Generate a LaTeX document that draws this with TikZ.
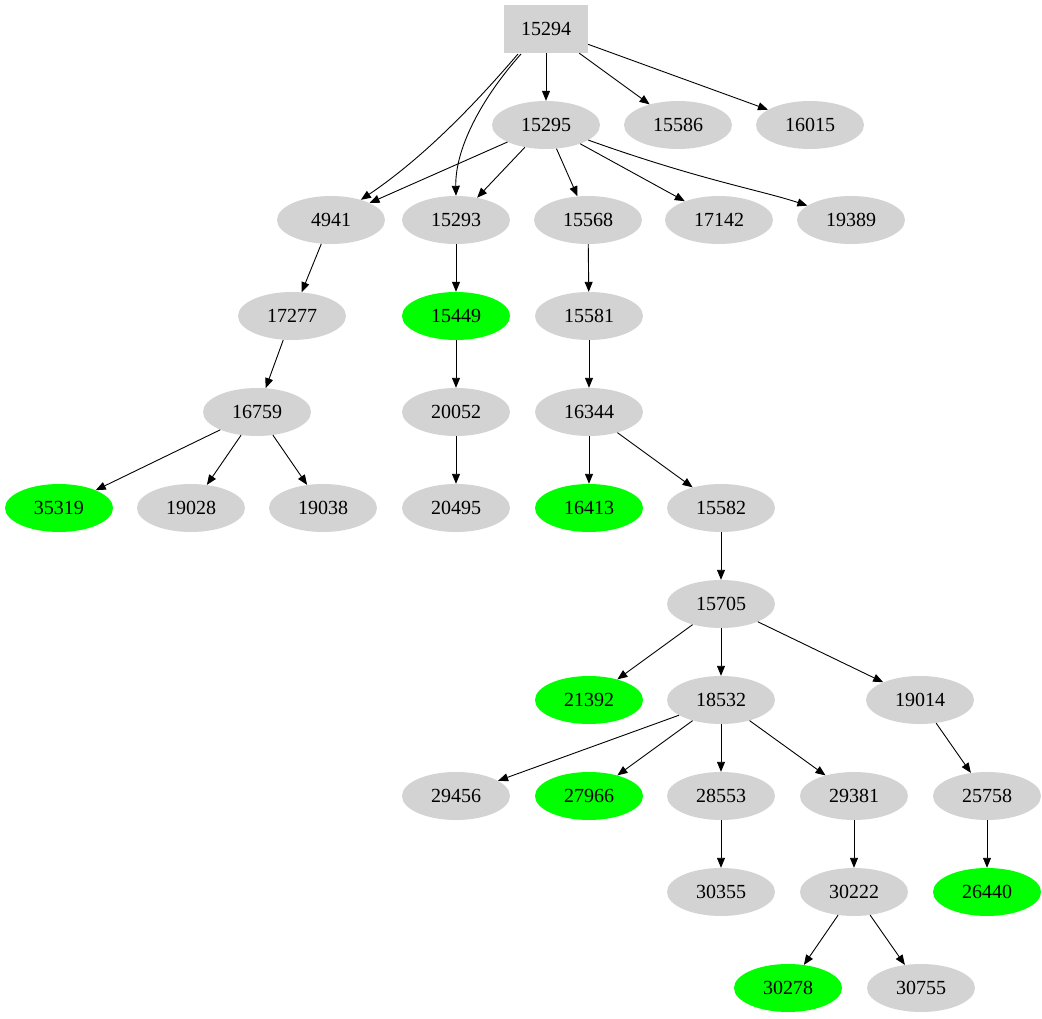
\documentclass[tikz,border=0pt]{standalone}
\usepackage{fontspec}
\setmainfont{Liberation Serif}
\usetikzlibrary{shapes.geometric,arrows.meta}
\definecolor{lg}{HTML}{D3D3D3}
\definecolor{gv}{HTML}{00FF00}
\begin{document}
\begin{tikzpicture}[x=1pt,y=-1pt,
  el/.style={ellipse,fill=lg,minimum width=108pt,minimum height=48pt,inner sep=0pt,font=\fontsize{20}{22}\selectfont},
  gr/.style={el,fill=gv},
  bx/.style={rectangle,fill=lg,minimum width=84pt,minimum height=48pt,font=\fontsize{20}{22}\selectfont},
  e/.style={-{Triangle[length=10pt,width=8pt]},line width=0.9pt}]
\useasboundingbox (0,0) rectangle (1042,1019);
\node[bx] (a) at (546,29) {15294};
\node[el] (b) at (546,125) {15295};
\node[el] (c) at (678,125) {15586};
\node[el] (d) at (810,125) {16015};
\node[el] (n4941) at (331,220) {4941};
\node[el] (n15293) at (456,220) {15293};
\node[el] (n15568) at (588,220) {15568};
\node[el] (n17142) at (719,220) {17142};
\node[el] (n19389) at (851,220) {19389};
\node[el] (n17277) at (292,316) {17277};
\node[gr] (n15449) at (456,316) {15449};
\node[el] (n15581) at (589,316) {15581};
\node[el] (n16759) at (257,412) {16759};
\node[el] (n20052) at (456,412) {20052};
\node[el] (n16344) at (589,412) {16344};
\node[gr] (n35319) at (59,508) {35319};
\node[el] (n19028) at (191,508) {19028};
\node[el] (n19038) at (323,508) {19038};
\node[el] (n20495) at (456,508) {20495};
\node[gr] (n16413) at (589,508) {16413};
\node[el] (n15582) at (721,508) {15582};
\node[el] (n15705) at (721,604) {15705};
\node[gr] (n21392) at (589,700) {21392};
\node[el] (n18532) at (721,700) {18532};
\node[el] (n19014) at (920,700) {19014};
\node[el] (n29456) at (456,796) {29456};
\node[gr] (n27966) at (589,796) {27966};
\node[el] (n28553) at (721,796) {28553};
\node[el] (n29381) at (854,796) {29381};
\node[el] (n25758) at (987,796) {25758};
\node[el] (n30355) at (721,892) {30355};
\node[el] (n30222) at (854,892) {30222};
\node[gr] (n26440) at (987,892) {26440};
\node[gr] (n30278) at (788,988) {30278};
\node[el] (n30755) at (921,988) {30755};
\draw[e] (a) -- (b); \draw[e] (a) -- (c); \draw[e] (a) -- (d);
\draw[e] (518,54) .. controls (470,110) and (420,160) .. (n4941);
\draw[e] (521,54) .. controls (480,100) and (455,150) .. (n15293.north);
\draw[e] (b) -- (n4941); \draw[e] (b) -- (n15293); \draw[e] (b) -- (n15568);
\draw[e] (b) -- (n17142);
\draw[e] (b) .. controls (700,180) and (760,190) .. (n19389);
\draw[e] (n4941) -- (n17277); \draw[e] (n17277) -- (n16759);
\draw[e] (n16759) -- (n35319); \draw[e] (n16759) -- (n19028); \draw[e] (n16759) -- (n19038);
\draw[e] (n15293) -- (n15449); \draw[e] (n15449) -- (n20052); \draw[e] (n20052) -- (n20495);
\draw[e] (n15568) -- (n15581); \draw[e] (n15581) -- (n16344);
\draw[e] (n16344) -- (n16413); \draw[e] (n16344) -- (n15582);
\draw[e] (n15582) -- (n15705);
\draw[e] (n15705) -- (n21392); \draw[e] (n15705) -- (n18532); \draw[e] (n15705) -- (n19014);
\draw[e] (n18532) -- (n29456); \draw[e] (n18532) -- (n27966); \draw[e] (n18532) -- (n28553); \draw[e] (n18532) -- (n29381);
\draw[e] (n19014) -- (n25758); \draw[e] (n25758) -- (n26440);
\draw[e] (n28553) -- (n30355); \draw[e] (n29381) -- (n30222);
\draw[e] (n30222) -- (n30278); \draw[e] (n30222) -- (n30755);
\end{tikzpicture}
\end{document}
